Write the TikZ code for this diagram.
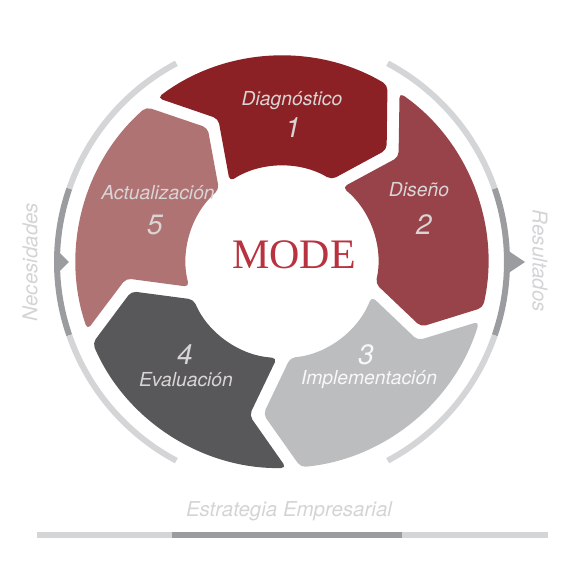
\documentclass[tikz,border=0pt]{standalone}
\usepackage{fontspec}
\setmainfont{TeX Gyre Heros}
\newfontfamily\modefont{Liberation Serif}

\definecolor{diag}{HTML}{8C2125}
\definecolor{dise}{HTML}{974349}
\definecolor{impl}{HTML}{BCBDBF}
\definecolor{eval}{HTML}{58585B}
\definecolor{actu}{HTML}{AF7374}
\definecolor{ringlight}{HTML}{D4D5D7}
\definecolor{ringdark}{HTML}{9B9CA0}
\definecolor{modered}{HTML}{B8323F}
\definecolor{lbltext}{HTML}{DAD5D5}
\definecolor{sidetext}{HTML}{D3D4D6}

\begin{document}
\begin{tikzpicture}[x=1pt,y=1pt,
    lbl/.style={text=lbltext, font=\fontsize{19.3}{21}\selectfont\itshape, inner sep=0pt},
    num/.style={text=lbltext, font=\fontsize{28}{30}\selectfont\itshape, inner sep=0pt},
    side/.style={text=sidetext, font=\fontsize{20.5}{22}\selectfont\itshape, inner sep=0pt}]
    \useasboundingbox (-282,-308) rectangle (288,262);
    \def\rout{206} \def\rin{96}
    \def\rring{225} \def\wring{6}

    % the five chevron segments, clockwise from the top
    \foreach \k/\col in {0/diag,1/dise,2/impl,3/eval,4/actu}{
        \begin{scope}[rotate=-72*\k]
            \fill[\col, rounded corners=5] (127.2:\rout) arc[start angle=127.2, end angle=59.2, radius=\rout]
                -- (47:153.4) -- (59:\rin) arc[start angle=59, end angle=123, radius=\rin]
                -- (114:156.8) -- cycle;
        \end{scope}
    }

    % outer ring
    \foreach \s in {1,-1}{
        \draw[ringlight, line width=\wring] (90-\s*28:\rring) arc[start angle=90-\s*28, end angle=90-\s*71, radius=\rring];
        \draw[ringdark, line width=\wring] (90-\s*71:\rring) arc[start angle=90-\s*71, end angle=90-\s*109, radius=\rring];
        \draw[ringlight, line width=\wring] (90-\s*109:\rring) arc[start angle=90-\s*109, end angle=90-\s*152, radius=\rring];
    }
    \fill[ringdark] (-\rring,12) -- (-213,0) -- (-\rring,-12) -- cycle;
    \fill[ringdark] (\rring,12) -- (243,0) -- (\rring,-12) -- cycle;

    % bottom bar
    \draw[ringlight, line width=\wring] (-245,-273) -- (266,-273);
    \draw[ringdark, line width=\wring] (-110,-273) -- (120,-273);

    \node[text=modered, font=\modefont\fontsize{42}{45}\selectfont] (mode) at (12,7) {MODE};

    \node[lbl] (diagtxt) at (10,161) {Diagnóstico};
    \node[num] (diagnum) at (11,134) {1};
    \node[lbl] (disetxt) at (137,72) {Diseño};
    \node[num] (disenum) at (142,37) {2};
    \node[lbl, text=white!90!impl] (impltxt) at (87,-118) {Implementación};
    \node[num, text=white!90!impl] (implnum) at (84,-93) {3};
    \node[lbl] (evaltxt) at (-96,-118) {Evaluación};
    \node[num] (evalnum) at (-97,-93) {4};
    \node[lbl] (actutxt) at (-124,69) {Actualización};
    \node[num] (actunum) at (-127,37) {5};

    \node[side, rotate=90] (neces) at (-252,0) {Necesidades};
    \node[side, rotate=-90] (result) at (258,1) {Resultados};
    \node[side] (estrat) at (7,-249) {Estrategia Empresarial};
\end{tikzpicture}
\end{document}
